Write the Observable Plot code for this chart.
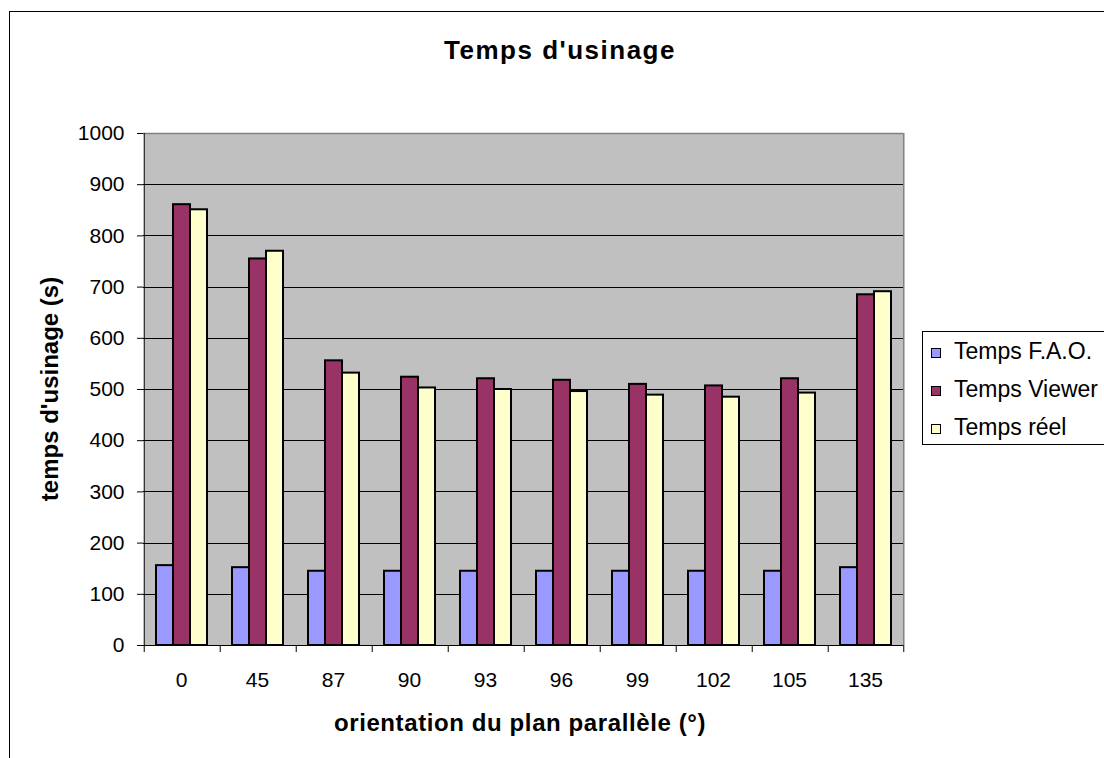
<!DOCTYPE html>
<html><head><meta charset="utf-8">
<script src="https://cdn.jsdelivr.net/npm/d3@7"></script>
<script src="https://cdn.jsdelivr.net/npm/@observablehq/plot@0.6"></script>
<style>
body{margin:0;background:#fff;overflow:hidden;font-family:"Liberation Sans",Arial,sans-serif;color:#000}
#wrap{position:relative;width:1104px;height:758px;overflow:hidden}
#border{position:absolute;left:9px;top:11px;width:1300px;height:900px;border-left:1px solid #000;border-top:1px solid #000}
#chart{position:absolute;left:0;top:0}
#title{position:absolute;left:560px;top:50px;transform:translate(-50%,-50%);font-weight:bold;font-size:26px;letter-spacing:1.5px;white-space:nowrap}
#ytitle{position:absolute;left:50px;top:389px;transform:translate(-50%,-50%) rotate(-90deg);font-weight:bold;font-size:24px;white-space:nowrap}
#xtitle{position:absolute;left:520px;top:723px;transform:translate(-50%,-50%);font-weight:bold;font-size:24px;letter-spacing:0.6px;white-space:nowrap}
#legend{position:absolute;left:922px;top:331px;width:250px;height:112px;border:1px solid #000;background:#fff;font-size:23px}
#legend .row{height:38px;line-height:38px;white-space:nowrap;padding-left:8px}
#legend .sw{display:inline-block;width:8px;height:8px;border:1px solid #000;margin-right:13px;vertical-align:1px}
</style></head>
<body>
<div id="wrap">
  <div id="border"></div>
  <div id="chart"></div>
  <div id="title">Temps d'usinage</div>
  <div id="ytitle">temps d'usinage (s)</div>
  <div id="xtitle">orientation du plan parallèle (°)</div>
  <div id="legend"></div>
</div>
<script>
const categories = ["0", "45", "87", "90", "93", "96", "99", "102", "105", "135"];
const series = ["Temps F.A.O.", "Temps Viewer", "Temps réel"];
const fao = [156, 152, 145, 145, 145, 145, 145, 145, 145, 152];
const viewer = [861, 755, 556, 524, 521, 518, 510, 507, 521, 685];
const reel = [851, 770, 532, 503, 500, 496, 489, 485, 493, 691];
const colors = ["#9999FF", "#993366", "#FFFFCC"];
const yTicks = [0, 100, 200, 300, 400, 500, 600, 700, 800, 900, 1000];

const valuesBySeries = [fao, viewer, reel];
const data = [];
categories.forEach((c, i) => {
  series.forEach((s, j) => data.push({angle: c, series: s, value: valuesBySeries[j][i]}));
});

const W = 1104, H = 758, mL = 143, mR = 201, mT = 133, mB = 113;
const padOuter = 0.706;
const facetW = (W - mL - mR) / categories.length;
const step = facetW / (series.length + 2 * padOuter);
const edge = step / 2 + padOuter * step;

const first = categories[0], last = categories[categories.length - 1];
const zero = () => 0;

const chart = Plot.plot({
  width: W, height: H,
  marginLeft: mL, marginRight: mR, marginTop: mT, marginBottom: mB,
  style: {fontFamily: "Liberation Sans, Arial, sans-serif", fontSize: "21px", color: "#000", background: "transparent"},
  fx: {domain: categories, padding: 0, label: null},
  x: {domain: series, paddingInner: 0, paddingOuter: padOuter, axis: null},
  y: {domain: [0, 1000], label: null},
  color: {domain: series, range: colors},
  marks: [
    Plot.frame({fill: "#c0c0c0", stroke: null, shapeRendering: "crispEdges"}),
    Plot.ruleY(yTicks.filter(v => v > 0 && v < 1000), {stroke: "#000", strokeWidth: 1, shapeRendering: "crispEdges"}),
    Plot.ruleY([1000], {stroke: "#808080", strokeWidth: 1.5}),
    Plot.ruleX([last], {fx: d => d, x: () => series[series.length - 1], dx: edge, stroke: "#808080", strokeWidth: 1.5}),
    Plot.barY(data, {fx: "angle", x: "series", y: "value", fill: "series", stroke: "#000", strokeWidth: 2}),
    Plot.ruleY([0], {stroke: "#000", strokeWidth: 1}),
    Plot.ruleX([first], {fx: d => d, x: () => series[0], dx: -edge, stroke: "#000", strokeWidth: 1}),
    Plot.ruleX(categories, {fx: d => d, x: () => series[0], y1: zero, y2: zero, insetBottom: -7, dx: -edge, stroke: "#000"}),
    Plot.ruleX([last], {fx: d => d, x: () => series[series.length - 1], y1: zero, y2: zero, insetBottom: -7, dx: edge, stroke: "#000"}),
    Plot.axisY({ticks: yTicks, tickFormat: d => String(d), tickSize: 6, tickPadding: 13, fontSize: 21, label: null, stroke: "#000"}),
    Plot.axisFx({tickSize: 0, tickPadding: 27, fontSize: 21, label: null, anchor: "bottom"})
  ]
});
document.getElementById("chart").appendChild(chart);

const legend = document.getElementById("legend");
series.forEach((s, j) => {
  const row = document.createElement("div");
  row.className = "row";
  const sw = document.createElement("span");
  sw.className = "sw";
  sw.style.background = colors[j];
  row.appendChild(sw);
  row.appendChild(document.createTextNode(s));
  legend.appendChild(row);
});
</script>
</body></html>
